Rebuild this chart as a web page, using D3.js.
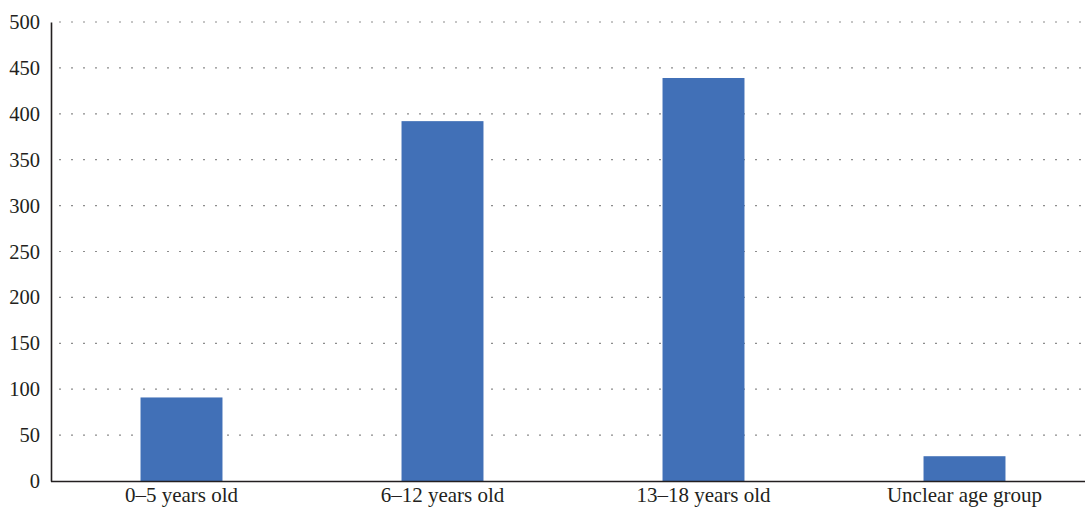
<!DOCTYPE html>
<html>
<head>
<meta charset="utf-8">
<script src="https://cdn.jsdelivr.net/npm/d3@7"></script>
<style>
  html, body { margin: 0; padding: 0; background: #fff; }
  svg { display: block; }
  text { font-family: "Liberation Serif", "DejaVu Serif", serif; fill: #231f20; }
</style>
</head>
<body>
<svg id="chart" width="1085" height="509"></svg>
<script>
// Number of cases per age group
const categories = ["0\u20135 years old", "6\u201312 years old", "13\u201318 years old", "Unclear age group"];
const values = [91, 392, 439, 27];
const yTicks = [0, 50, 100, 150, 200, 250, 300, 350, 400, 450, 500];

const svg = d3.select("#chart");
const plot = { left: 51, right: 1095, top: 22, bottom: 481 };

const x = d3.scaleBand()
  .domain(categories)
  .range([plot.left, plot.right])
  .paddingInner(0.686)
  .paddingOuter(0.343);

const y = d3.scaleLinear().domain([0, 500]).range([plot.bottom, plot.top]);

// dotted horizontal grid
svg.append("g")
  .selectAll("line")
  .data(yTicks.filter(d => d > 0))
  .join("line")
  .attr("x1", plot.left + 8)
  .attr("x2", 1085)
  .attr("y1", d => y(d))
  .attr("y2", d => y(d))
  .attr("stroke", "#8c8c8c")
  .attr("stroke-width", 1.2)
  .attr("stroke-dasharray", "2,10");

// bars
svg.append("g")
  .selectAll("rect")
  .data(categories)
  .join("rect")
  .attr("x", d => x(d))
  .attr("width", x.bandwidth())
  .attr("y", (d, i) => y(values[i]))
  .attr("height", (d, i) => y(0) - y(values[i]))
  .attr("fill", "#4170b7");

// y axis
const yAxis = svg.append("g")
  .attr("transform", `translate(${plot.left},0)`)
  .call(d3.axisLeft(y).tickValues(yTicks).tickSize(0).tickPadding(11));
yAxis.select(".domain").attr("stroke", "#231f20").attr("stroke-width", 1.6);
yAxis.selectAll("text")
  .attr("font-size", 20.5)
  .attr("font-family", "Liberation Serif, DejaVu Serif, serif")
  .attr("fill", "#231f20");

// x axis
const xAxis = svg.append("g")
  .attr("transform", `translate(0,${plot.bottom})`)
  .call(d3.axisBottom(x).tickSize(0).tickPadding(6));
xAxis.select(".domain")
  .attr("d", `M${plot.left},0.5H1085`)
  .attr("stroke", "#231f20").attr("stroke-width", 1.6);
xAxis.selectAll("text")
  .attr("font-size", 21)
  .attr("font-family", "Liberation Serif, DejaVu Serif, serif")
  .attr("fill", "#231f20");
</script>
</body>
</html>
